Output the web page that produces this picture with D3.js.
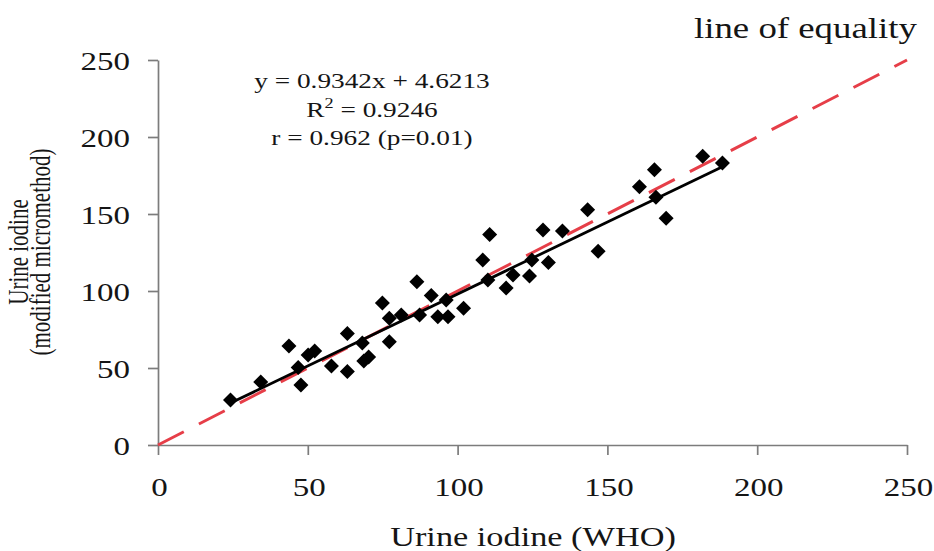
<!DOCTYPE html>
<html>
<head>
<meta charset="utf-8">
<script src="https://cdn.jsdelivr.net/npm/d3@7"></script>
<style>
  html, body { margin: 0; padding: 0; background: #fff; }
  svg { display: block; }
  text { font-family: "Liberation Serif", "Times New Roman", serif; fill: #151515; }
</style>
</head>
<body>
<svg id="chart" width="934" height="551"></svg>
<script>
// Urine iodine: WHO method (x) vs modified micromethod (y)
const whoValues = [24.2, 34.3, 43.7, 46.8, 47.7, 50.1, 52.3, 57.9, 63.2, 63.2,
  68.2, 68.7, 70.3, 74.9, 77.2, 77.2, 81.2, 86.4, 87.3, 91.2,
  93.4, 96.2, 96.8, 102.0, 108.4, 110.1, 110.7, 116.2, 118.5, 124.0,
  124.8, 128.5, 130.3, 135.0, 143.4, 146.9, 160.7, 165.7, 166.2, 169.6,
  181.8, 188.4];
const microValues = [29.2, 40.9, 64.3, 50.3, 39.0, 58.4, 61.0, 51.3, 72.4, 47.7,
  66.2, 54.5, 57.1, 92.2, 82.3, 67.1, 84.4, 106.0, 84.4, 97.1,
  83.3, 94.2, 83.3, 88.8, 120.1, 107.1, 136.7, 101.9, 110.4, 109.7,
  120.1, 139.6, 118.5, 139.0, 152.8, 125.8, 167.7, 178.8, 160.8, 147.2,
  187.5, 183.1];

const tickValues = [0, 50, 100, 150, 200, 250];
const slope = 0.9342;
const intercept = 4.6213;
const statLines = ["y = 0.9342x + 4.6213", "R2 = 0.9246", "r = 0.962 (p=0.01)"];
const yTitleLines = ["Urine iodine", "(modified micromethod)"];
const xTitle = "Urine iodine (WHO)";
const equalityLabel = "line of equality";

const SX = 1.27; // horizontal text stretch
const svg = d3.select("#chart");

const x = d3.scaleLinear().domain([0, 250]).range([158, 907]);
const y = d3.scaleLinear().domain([0, 250]).range([445, 60]);

const axisColor = "#7c7c7c";

// x axis
const gx = svg.append("g")
  .attr("transform", `translate(0,${y(0)})`)
  .call(d3.axisBottom(x).tickValues(tickValues).tickSize(10).tickSizeOuter(0).tickFormat(d3.format("d")));
gx.select(".domain").attr("stroke", axisColor).attr("stroke-width", 1.7);
gx.selectAll(".tick line").attr("stroke", axisColor).attr("stroke-width", 1.7);
gx.selectAll(".tick text")
  .attr("y", 0).attr("dy", null)
  .attr("transform", `translate(1,51) scale(${SX},1)`)
  .style("font-size", "26px")
  .style("fill", "#151515");

// y axis
const gy = svg.append("g")
  .attr("transform", `translate(${x(0)},0)`)
  .call(d3.axisLeft(y).tickValues(tickValues).tickSize(10).tickSizeOuter(0).tickFormat(d3.format("d")));
gy.select(".domain").attr("stroke", axisColor).attr("stroke-width", 1.7);
gy.selectAll(".tick line").attr("stroke", axisColor).attr("stroke-width", 1.7);
gy.selectAll(".tick text")
  .attr("x", 0).attr("dy", null)
  .attr("transform", `translate(-28,9) scale(${SX},1)`)
  .style("font-size", "26px")
  .style("fill", "#151515");
gx.attr("font-family", null); gy.attr("font-family", null);

// line of equality
svg.append("line")
  .attr("x1", x(0)).attr("y1", y(0))
  .attr("x2", x(250)).attr("y2", y(250))
  .attr("stroke", "#e63e48")
  .attr("stroke-width", 3)
  .attr("stroke-dasharray", "29,17");

// regression line
const xr = d3.extent(whoValues);
svg.append("line")
  .attr("x1", x(xr[0])).attr("y1", y(slope * xr[0] + intercept))
  .attr("x2", x(xr[1])).attr("y2", y(slope * xr[1] + intercept))
  .attr("stroke", "#000")
  .attr("stroke-width", 2.8);

// points
const diamond = "M0,-7.5L7.5,0L0,7.5L-7.5,0Z";
svg.append("g").selectAll("path")
  .data(whoValues.map((v, i) => [v, microValues[i]]))
  .join("path")
  .attr("d", diamond)
  .attr("transform", d => `translate(${x(d[0])},${y(d[1])})`)
  .attr("fill", "#000");

// regression statistics
const stats = svg.append("g");
const baselines = [88, 117, 145];
statLines.forEach((s, i) => {
  const t = stats.append("text")
    .attr("transform", `translate(372,${baselines[i]}) scale(1.3,1)`)
    .attr("text-anchor", "middle")
    .style("font-size", "21px");
  if (s.startsWith("R2")) {
    t.append("tspan").text("R");
    t.append("tspan").attr("dy", -9).style("font-size", "14px").text("2");
    t.append("tspan").attr("dy", 9).text(s.slice(2));
  } else {
    t.text(s);
  }
});

// equality label
svg.append("text")
  .attr("transform", `translate(694,38) scale(${SX},1)`)
  .style("font-size", "29px")
  .text(equalityLabel);

// x title
svg.append("text")
  .attr("transform", `translate(533,546) scale(${SX},1)`)
  .attr("text-anchor", "middle")
  .style("font-size", "27px")
  .text(xTitle);

// y title
[28, 50].forEach((bx, i) => {
  svg.append("text")
    .attr("transform", `translate(${bx},252) scale(1.4,1) rotate(-90)`)
    .attr("text-anchor", "middle")
    .style("font-size", "21px")
    .text(yTitleLines[i]);
});
</script>
</body>
</html>
